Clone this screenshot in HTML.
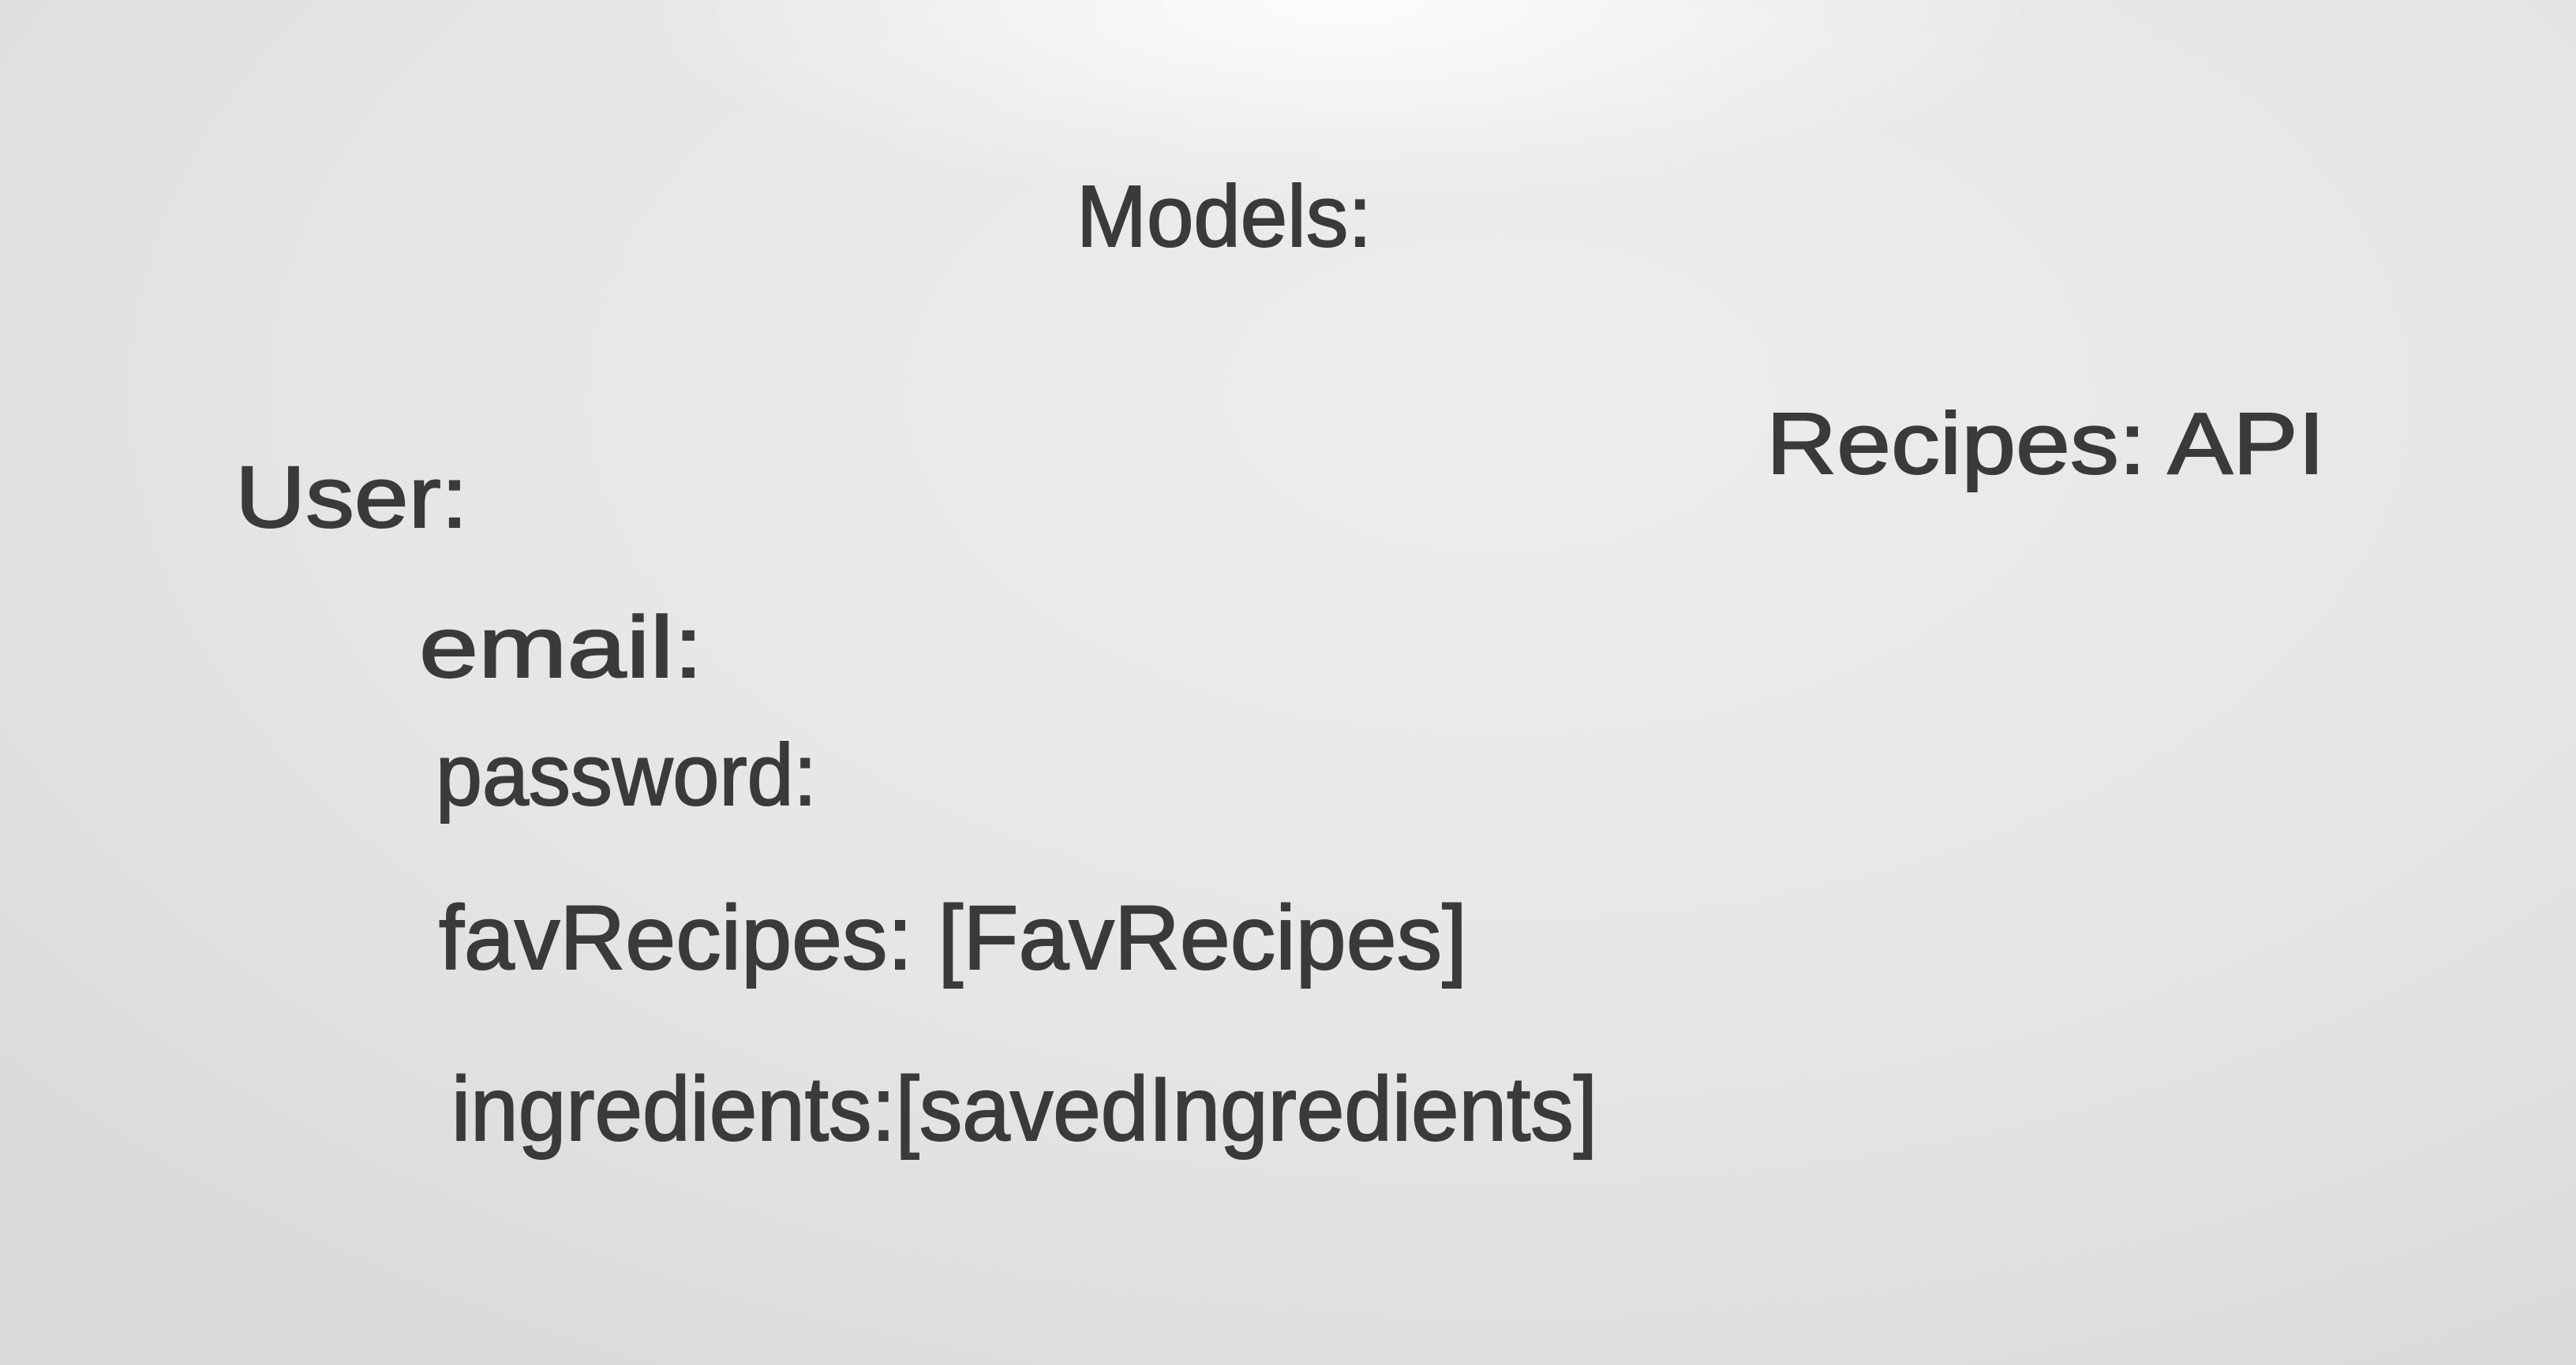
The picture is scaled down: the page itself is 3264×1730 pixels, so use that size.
<!DOCTYPE html>
<html>
<head>
<meta charset="utf-8">
<style>
  html,body{margin:0;padding:0;}
  body{width:3264px;height:1730px;overflow:hidden;
    background:
      radial-gradient(ellipse 900px 260px at 1700px 0px, rgba(255,255,255,0.9), rgba(255,255,255,0) 100%),
      radial-gradient(ellipse 2600px 1500px at 1900px 500px, #ededed 0%, #e6e6e6 55%, #d9d9d9 100%);
  }
  svg{position:absolute;left:0;top:0;}
  text{font-family:"Liberation Sans",sans-serif;fill:#3a3a3a;stroke:#3a3a3a;stroke-width:2;}
</style>
</head>
<body>
<svg width="3264" height="1730" viewBox="0 0 3264 1730">
  <text x="1364" y="312" font-size="110" textLength="374" lengthAdjust="spacingAndGlyphs">Models:</text>
  <text x="2238" y="600" font-size="110" textLength="708" lengthAdjust="spacingAndGlyphs">Recipes:  API</text>
  <text x="298" y="668" font-size="110" textLength="295" lengthAdjust="spacingAndGlyphs">User:</text>
  <text x="531" y="858" font-size="110" textLength="360" lengthAdjust="spacingAndGlyphs">email:</text>
  <text x="552" y="1020" font-size="110" textLength="483" lengthAdjust="spacingAndGlyphs">password:</text>
  <text x="556" y="1228" font-size="115" textLength="1303" lengthAdjust="spacingAndGlyphs">favRecipes: [FavRecipes]</text>
  <text x="572" y="1445" font-size="115" textLength="1452" lengthAdjust="spacingAndGlyphs">ingredients:[savedIngredients]</text>
</svg>
</body>
</html>
